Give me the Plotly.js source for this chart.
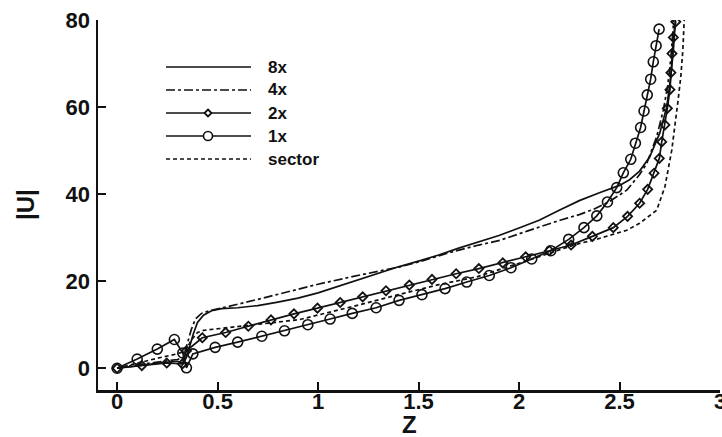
<!DOCTYPE html>
<html>
<head>
<meta charset="utf-8">
<script src="https://cdn.plot.ly/plotly-3.0.1.min.js"></script>
<style>html,body{margin:0;padding:0;background:#fff;}#chart{width:722px;height:437px;}</style>
</head>
<body>
<div id="chart"></div>
<script>
// ---- data ----
const seriesNames = ["8x", "4x", "2x", "1x", "sector"];

const z8 = [0,0.1,0.2,0.3,0.33,0.345,0.36,0.38,0.40,0.43,0.47,0.52,0.6,0.7,0.8,0.9,1.0,1.1,1.2,1.3,1.4,1.5,1.6,1.7,1.8,1.9,2.0,2.1,2.2,2.3,2.4,2.5,2.55,2.6,2.65,2.7,2.735,2.755,2.768,2.778];
const u8 = [0,0.6,1.1,1.6,1.2,2.5,5,8,10.5,12.2,13.2,13.7,13.9,14.4,15.2,16.1,17.3,18.8,20.4,21.9,23.3,24.6,26.0,27.6,29.0,30.5,32.2,34.0,36.3,38.5,40.3,42.0,43.3,45.3,48.5,54,60,67,73,80];

const z4 = [0,0.1,0.2,0.3,0.33,0.35,0.37,0.39,0.42,0.46,0.55,0.628,0.75,0.877,1.0,1.176,1.3,1.408,1.5,1.59,1.657,1.8,1.905,2.04,2.154,2.204,2.3,2.37,2.45,2.536,2.6,2.635,2.685,2.718,2.74,2.755,2.77];
const u4 = [0,0.8,1.4,2.0,2.5,6,9,11.3,12.6,13.2,14.1,15.0,16.4,17.9,19.3,21.1,22.3,23.3,24.4,25.6,26.6,28.3,29.4,31.5,33.3,34.0,35.3,36.5,38.3,40.9,44.5,47.0,53.2,59.3,65,71,80];

const z2 = [0,0.123,0.247,0.325,0.345,0.424,0.54,0.653,0.766,0.88,0.997,1.11,1.222,1.338,1.454,1.567,1.687,1.80,1.919,2.033,2.151,2.259,2.365,2.469,2.54,2.60,2.64,2.672,2.698,2.71,2.726,2.738,2.751,2.756,2.761,2.768,2.78];
const u2 = [0,0.6,1.2,1.0,4.0,7.0,8.2,9.65,11.1,12.5,13.8,15.1,16.4,17.8,19.1,20.4,21.7,22.9,24.2,25.6,27.0,28.3,30.3,32.3,34.9,37.9,41.1,44.8,48.2,52.0,55.9,59.7,64.0,67.9,72.3,76.0,79.6];

const z1 = [0,0.10,0.20,0.285,0.327,0.345,0.377,0.488,0.60,0.72,0.833,0.949,1.06,1.17,1.289,1.403,1.517,1.632,1.74,1.852,1.96,2.063,2.158,2.247,2.323,2.387,2.44,2.486,2.519,2.556,2.579,2.605,2.622,2.638,2.655,2.668,2.682,2.697];
const u1 = [0,2.1,4.4,6.6,3.5,0.1,3.3,4.8,6.0,7.35,8.6,10.0,11.3,12.6,13.9,15.6,16.9,18.3,19.8,21.3,23.1,25.1,27.0,29.6,32.3,35.0,38.2,41.5,44.9,48.0,51.7,55.3,59.1,62.8,66.4,70.4,74.1,77.9];

const zs = [0,0.1,0.2,0.3,0.34,0.37,0.40,0.43,0.6,0.8,0.91,1.0,1.2,1.4,1.6,1.79,1.95,2.1,2.2,2.303,2.37,2.486,2.536,2.6,2.668,2.685,2.726,2.76,2.79,2.805,2.815,2.822];
const us = [0,1.2,2.3,3.3,4.0,6.5,8.2,8.7,9.5,10.6,11.2,12.2,14.5,16.9,19.2,21.0,23.3,25.6,27.2,28.7,29.4,31.0,31.7,33.3,35.6,36.3,41.7,50.1,61,67,73,80];

const xTicks = [0, 0.5, 1, 1.5, 2, 2.5, 3];
const xTickText = ["0", "0.5", "1", "1.5", "2", "2.5", "3"];
const yTicks = [0, 20, 40, 60, 80];
const yTickText = ["0", "20", "40", "60", "80"];
const xTitle = "Z";
const yTitle = "|U|";

// ---- styling ----
const INK = "#111111";
const lineW = 1.7;
const sectorDash = "4px,3px";
const bold = s => "<b>" + s + "</b>";
const FAM = "Liberation Sans, Arial, sans-serif";

const traces = [
  {x: z8, y: u8, name: seriesNames[0], mode: "lines", line: {color: INK, width: lineW}},
  {x: z4, y: u4, name: seriesNames[1], mode: "lines", line: {color: INK, width: lineW, dash: "dashdot"}},
  {x: zs, y: us, name: seriesNames[4], mode: "lines", line: {color: INK, width: lineW, dash: sectorDash}},
  {x: z2, y: u2, name: seriesNames[2], mode: "lines+markers", line: {color: INK, width: lineW},
   marker: {symbol: "diamond-open", size: 7, color: INK, line: {color: INK, width: 1.8}}},
  {x: z1, y: u1, name: seriesNames[3], mode: "lines+markers", line: {color: INK, width: lineW},
   marker: {symbol: "circle-open", size: 10, color: INK, line: {color: INK, width: 1.6}}}
];

// ---- plot geometry ----
const W = 722, H = 437;
const M = {l: 98, r: 2, t: 20, b: 47};
const plotW = W - M.l - M.r, plotH = H - M.t - M.b;
const px2x = p => (p - M.l) / plotW;
const py2y = p => (H - M.b - p) / plotH;

// custom legend (layout decoration)
const legX0 = 166, legX1 = 251, legTextX = 266, legMarkX = 208;
const legRows = [67, 90, 113, 136, 159];
const legDash = ["solid", "dashdot", "solid", "solid", sectorDash];
const shapes = [];
const annotations = [];
seriesNames.forEach((nm, i) => {
  const yy = py2y(legRows[i]);
  shapes.push({type: "line", xref: "paper", yref: "paper", x0: px2x(legX0), x1: px2x(legX1), y0: yy, y1: yy,
               line: {color: INK, width: lineW, dash: legDash[i]}});
  annotations.push({xref: "paper", yref: "paper", x: px2x(legTextX), y: yy, xanchor: "left", yanchor: "middle",
                    text: bold(nm), showarrow: false, font: {family: FAM, size: 17, color: INK}});
});
// legend markers: diamond for 2x, circle for 1x
shapes.push({type: "path", xref: "paper", yref: "paper", xsizemode: "pixel", ysizemode: "pixel",
             xanchor: px2x(legMarkX), yanchor: py2y(legRows[2]),
             path: "M0,3.5L3.5,0L0,-3.5L-3.5,0Z", fillcolor: "white", line: {color: INK, width: 1.8}});
shapes.push({type: "circle", xref: "paper", yref: "paper", xsizemode: "pixel", ysizemode: "pixel",
             xanchor: px2x(legMarkX), yanchor: py2y(legRows[3]),
             x0: -4.5, x1: 4.5, y0: -4.5, y1: 4.5, fillcolor: "white", line: {color: INK, width: 1.6}});

// axis titles as annotations (positioned like the reference)
annotations.push({xref: "paper", yref: "paper", x: px2x(409), y: py2y(424), xanchor: "center", yanchor: "middle",
                  text: bold(xTitle), showarrow: false, font: {family: FAM, size: 24, color: INK}});
annotations.push({xref: "paper", yref: "paper", x: px2x(25), y: py2y(205), xanchor: "center", yanchor: "middle",
                  text: bold(yTitle), textangle: -90, showarrow: false, font: {family: FAM, size: 24, color: INK}});

const tickFont = {family: FAM, size: 22, color: INK};

const layout = {
  width: W, height: H,
  margin: M,
  paper_bgcolor: "#ffffff", plot_bgcolor: "#ffffff",
  showlegend: false,
  xaxis: {
    range: [-0.095, 3], tickvals: xTicks, ticktext: xTickText.map(bold),
    ticks: "inside", ticklen: 8, tickwidth: 2, tickcolor: INK,
    showline: true, linecolor: INK, linewidth: 2.5, mirror: false,
    showgrid: false, zeroline: false, tickfont: tickFont, automargin: false,
    ticklabelstandoff: -10, ticklabeloverflow: "allow"
  },
  yaxis: {
    range: [-5, 80], tickvals: yTicks, ticktext: yTickText.map(bold),
    ticks: "inside", ticklen: 8, tickwidth: 2, tickcolor: INK,
    showline: true, linecolor: INK, linewidth: 2.5, mirror: false,
    showgrid: false, zeroline: false, tickfont: tickFont, automargin: false,
    ticklabelstandoff: 1
  },
  shapes: shapes,
  annotations: annotations
};

Plotly.newPlot("chart", traces, layout, {staticPlot: true, displayModeBar: false});
</script>
</body>
</html>
